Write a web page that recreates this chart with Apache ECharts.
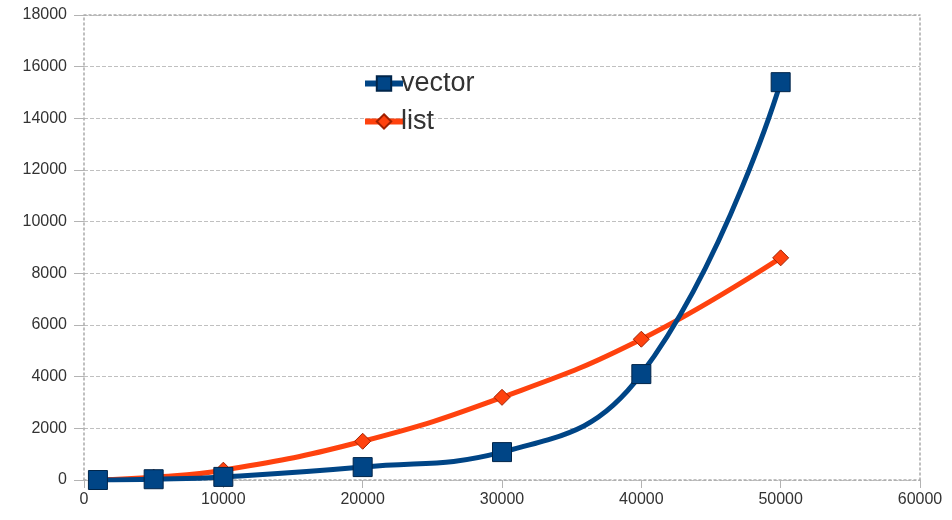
<!DOCTYPE html>
<html><head><meta charset="utf-8">
<script src="https://cdn.jsdelivr.net/npm/echarts@6/dist/echarts.min.js"></script>
<style>html,body{margin:0;padding:0;background:#fff}#c{width:952px;height:520px}</style>
</head><body><div id="c"></div>
<script>
const sizes = [1000, 5000, 10000, 20000, 30000, 40000, 50000];
const vectorValues = [0, 30, 120, 500, 1080, 4100, 15400];
const listValues = [10, 110, 380, 1500, 3200, 5450, 8600];
const xTicks = [0, 10000, 20000, 30000, 40000, 50000, 60000];
const yTicks = [0, 2000, 4000, 6000, 8000, 10000, 12000, 14000, 16000, 18000];

const chart = echarts.init(document.getElementById('c'));
const labelStyle = {color: '#333', fontSize: 16, fontFamily: 'Liberation Sans', formatter: v => String(v)};
const frameLine = {show: true, onZero: false, lineStyle: {color: '#aaaaaa', type: [2, 3], width: 1.5}};
chart.setOption({
  animation: false,
  grid: {left: 84, right: 32, top: 15, bottom: 40, show: false},
  legend: {
    orient: 'vertical', left: 357, top: 65, itemGap: 11,
    itemWidth: 38, itemHeight: 18,
    lineStyle: {width: 6},
    textStyle: {fontSize: 27, color: '#333', fontFamily: 'Liberation Sans', padding: [0,0,0,-7]},
    data: ['vector', 'list']
  },
  xAxis: [{
    type: 'value', min: xTicks[0], max: xTicks[xTicks.length-1], interval: 10000,
    axisLine: frameLine,
    axisTick: {show: true, length: 8, lineStyle: {color: '#b3b3b3'}},
    axisLabel: Object.assign({margin: 12}, labelStyle),
    splitLine: {show: false}
  }, {
    type: 'value', position: 'top', min: xTicks[0], max: xTicks[xTicks.length-1], interval: 10000,
    axisLine: frameLine,
    axisTick: {show: false}, axisLabel: {show: false}, splitLine: {show: false}
  }],
  yAxis: [{
    type: 'value', min: yTicks[0], max: yTicks[yTicks.length-1], interval: 2000,
    axisLine: frameLine,
    axisTick: {show: true, length: 10, lineStyle: {color: '#b3b3b3'}},
    axisLabel: Object.assign({margin: 17}, labelStyle),
    splitLine: {show: true, lineStyle: {color: '#c0c0c0', type: 'dashed', width: 1}}
  }, {
    type: 'value', position: 'right', min: yTicks[0], max: yTicks[yTicks.length-1], interval: 2000,
    axisLine: frameLine,
    axisTick: {show: false}, axisLabel: {show: false}, splitLine: {show: false}
  }],
  series: [{
    name: 'vector', type: 'line', smooth: 0.45,
    data: sizes.map((s, i) => [s, vectorValues[i]]),
    symbol: 'rect', symbolSize: 19,
    lineStyle: {color: '#004586', width: 5},
    itemStyle: {color: '#004586', borderColor: '#00254a', borderWidth: 1},
    z: 3
  }, {
    name: 'list', type: 'line', smooth: 0.45,
    data: sizes.map((s, i) => [s, listValues[i]]),
    symbol: 'diamond', symbolSize: 16,
    lineStyle: {color: '#ff420e', width: 5},
    itemStyle: {color: '#ff420e', borderColor: '#a02000', borderWidth: 1},
    z: 2
  }]
});
</script></body></html>
